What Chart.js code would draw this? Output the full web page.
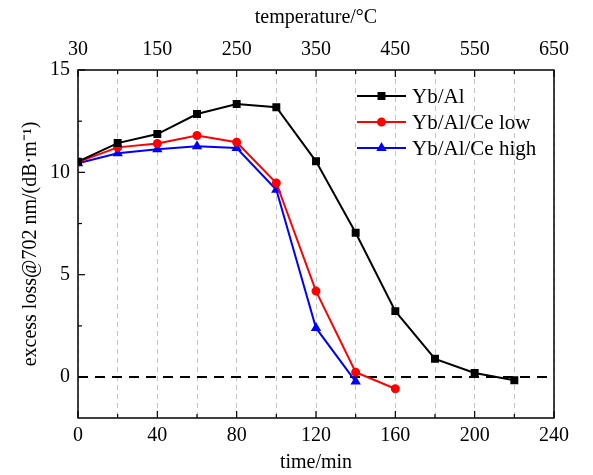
<!DOCTYPE html>
<html>
<head>
<meta charset="utf-8">
<script src="https://cdn.jsdelivr.net/npm/chart.js@4.4.1/dist/chart.umd.min.js"></script>
<style>
  html, body { margin: 0; padding: 0; background: #fff; }
</style>
</head>
<body>
<canvas id="chart" width="593" height="475"></canvas>
<script>
// time in minutes (bottom axis)
const timeMin = [0, 20, 40, 60, 80, 100, 120, 140, 160, 180, 200, 220];
// excess loss @702 nm in dB/m
const ybAl = [10.52, 11.43, 11.87, 12.85, 13.34, 13.18, 10.54, 7.05, 3.22, 0.89, 0.2, -0.16];
const ybAlCeLow = [10.5, 11.22, 11.41, 11.8, 11.47, 9.48, 4.2, 0.24, -0.57];
const ybAlCeHigh = [10.44, 10.93, 11.13, 11.27, 11.19, 9.15, 2.4, -0.22];
// temperature labels shown on top axis, one per 40 min tick
const tempLabels = ["30", "150", "250", "350", "450", "550", "650"];

const serif = "'Liberation Serif', 'Times New Roman', serif";
const font20 = { family: serif, size: 20 };

function pts(values) {
  return values.map((v, i) => ({ x: timeMin[i], y: v }));
}

// frame, inward ticks and the zero reference line
const framePlugin = {
  id: "frame",
  beforeDatasetsDraw(chart) {
    const { ctx, chartArea: a, scales } = chart;
    ctx.save();
    // dashed zero line
    const y0 = scales.y.getPixelForValue(0);
    ctx.strokeStyle = "#000";
    ctx.lineWidth = 2;
    ctx.setLineDash([10, 7]);
    ctx.beginPath();
    ctx.moveTo(a.left, y0);
    ctx.lineTo(a.right, y0);
    ctx.stroke();
    ctx.setLineDash([]);

    // box
    ctx.lineWidth = 1.5;
    ctx.strokeRect(a.left, a.top, a.right - a.left, a.bottom - a.top);

    // x ticks (bottom + top)
    ctx.lineWidth = 1.2;
    for (let t = 0; t <= 240; t += 20) {
      const px = scales.x.getPixelForValue(t);
      const len = t % 40 === 0 ? 7 : 4;
      ctx.beginPath();
      ctx.moveTo(px, a.bottom);
      ctx.lineTo(px, a.bottom - len);
      ctx.moveTo(px, a.top);
      ctx.lineTo(px, a.top + len);
      ctx.stroke();
    }
    // y ticks
    for (let v = 0; v <= 15; v += 2.5) {
      const py = scales.y.getPixelForValue(v);
      const len = v % 5 === 0 ? 7 : 4;
      ctx.beginPath();
      ctx.moveTo(a.left, py);
      ctx.lineTo(a.left + len, py);
      ctx.stroke();
    }
    ctx.restore();
  },
  afterDraw(chart) {
    // legend inside the plot, top right
    const { ctx, chartArea: a } = chart;
    ctx.save();
    const x0 = a.right - 197;
    chart.data.datasets.forEach((ds, i) => {
      const y = a.top + 26 + i * 26;
      ctx.strokeStyle = ds.borderColor;
      ctx.fillStyle = ds.borderColor;
      ctx.lineWidth = 2;
      ctx.beginPath();
      ctx.moveTo(x0, y);
      ctx.lineTo(x0 + 49, y);
      ctx.stroke();
      Chart.helpers.drawPoint(ctx, {
        pointStyle: ds.pointStyle, radius: ds.pointRadius, rotation: 0, borderWidth: 1
      }, x0 + 24.5, y);
      ctx.fillStyle = "#000";
      ctx.font = "21px " + serif;
      ctx.textBaseline = "middle";
      ctx.fillText(ds.label, x0 + 55, y + 1);
    });
    ctx.restore();
  }
};

new Chart(document.getElementById("chart"), {
  type: "line",
  data: {
    datasets: [
      {
        label: "Yb/Al",
        data: pts(ybAl),
        borderColor: "#000000",
        backgroundColor: "#000000",
        pointStyle: "rect",
        pointRadius: 4.2,
        borderWidth: 2
      },
      {
        label: "Yb/Al/Ce low",
        data: pts(ybAlCeLow),
        borderColor: "#ff0000",
        backgroundColor: "#ff0000",
        pointStyle: "circle",
        pointRadius: 3.5,
        borderWidth: 2
      },
      {
        label: "Yb/Al/Ce high",
        data: pts(ybAlCeHigh),
        borderColor: "#0000ff",
        backgroundColor: "#0000ff",
        pointStyle: "triangle",
        pointRadius: 4,
        borderWidth: 2
      }
    ]
  },
  options: {
    responsive: false,
    animation: false,
    layout: { padding: { left: 0, right: 39, top: 0, bottom: 0 } },
    plugins: {
      legend: { display: false },
      tooltip: { enabled: false }
    },
    scales: {
      x: {
        type: "linear",
        position: "bottom",
        min: 0,
        max: 240,
        afterFit: (s) => { s.height = 57; },
        ticks: {
          stepSize: 20,
          autoSkip: false,
          maxRotation: 0,
          padding: 6,
          color: "#000",
          font: font20,
          callback: (v) => (v % 40 === 0 ? String(v) : "")
        },
        grid: { color: "#c4c4c4", lineWidth: 1, drawTicks: false },
        border: { display: false, dash: [5, 4] },
        title: { display: true, text: "time/min", color: "#000", font: font20, padding: { top: 2, bottom: 0 } }
      },
      xTop: {
        type: "linear",
        position: "top",
        min: 0,
        max: 240,
        afterFit: (s) => { s.height = 70; },
        ticks: {
          stepSize: 40,
          autoSkip: false,
          maxRotation: 0,
          padding: 8,
          color: "#000",
          font: font20,
          callback: (v) => tempLabels[Math.round(v / 40)]
        },
        grid: { display: false, drawTicks: false },
        border: { display: false },
        title: { display: true, text: "temperature/°C", color: "#000", font: font20, padding: { top: 6, bottom: 0 } }
      },
      y: {
        min: -2,
        max: 15,
        afterFit: (s) => { s.width = 78; },
        ticks: { stepSize: 5, includeBounds: false, padding: 8, color: "#000", font: font20 },
        grid: { display: false, drawTicks: false },
        border: { display: false },
        title: { display: true, text: "excess loss@702 nm/(dB·m⁻¹)", color: "#000", font: font20, padding: { top: 19, bottom: 0 } }
      }
    }
  },
  plugins: [framePlugin]
});
</script>
</body>
</html>
